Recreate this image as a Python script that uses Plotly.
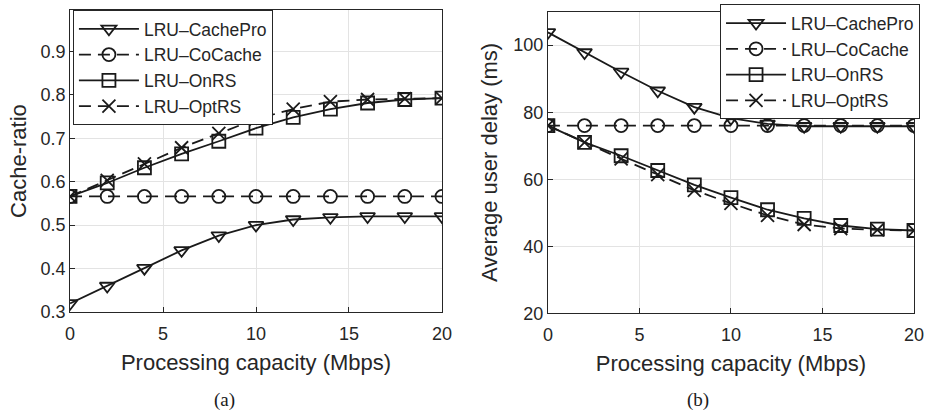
import plotly.graph_objects as go

x = [0, 2, 4, 6, 8, 10, 12, 14, 16, 18, 20]
names = ["LRU\u2013CachePro", "LRU\u2013CoCache", "LRU\u2013OnRS", "LRU\u2013OptRS"]

ratio_cachepro = [0.32, 0.36, 0.401, 0.442, 0.476, 0.50, 0.513, 0.518, 0.52, 0.52, 0.52]
ratio_cocache = [0.566] * 11
ratio_onrs = [0.566, 0.597, 0.632, 0.664, 0.693, 0.723, 0.748, 0.767, 0.781, 0.789, 0.792]
ratio_optrs = [0.566, 0.603, 0.641, 0.678, 0.711, 0.744, 0.767, 0.784, 0.789, 0.791, 0.792]

delay_cachepro = [103.8, 97.8, 92.0, 86.4, 81.5, 78.2, 76.5, 75.8, 75.8, 75.8, 75.8]
delay_cocache = [76.0] * 11
delay_onrs = [76.0, 71.0, 67.0, 62.6, 58.3, 54.5, 50.9, 48.3, 46.2, 45.1, 44.7]
delay_optrs = [76.0, 71.0, 66.1, 61.4, 56.7, 52.8, 49.2, 46.5, 45.3, 44.9, 44.7]

ink = "#1a1a1a"
styles = [
    dict(symbol="triangle-down-open", dash="solid"),
    dict(symbol="circle-open", dash="12px,7px"),
    dict(symbol="square-open", dash="solid"),
    dict(symbol="x-thin-open", dash="12px,7px"),
]

fig = go.Figure()
left_series = [ratio_cachepro, ratio_cocache, ratio_onrs, ratio_optrs]
right_series = [delay_cachepro, delay_cocache, delay_onrs, delay_optrs]
for i, (nm, ys) in enumerate(zip(names, left_series)):
    st = styles[i]
    fig.add_trace(go.Scatter(
        x=x, y=ys, name=nm, mode="lines+markers", xaxis="x", yaxis="y",
        line=dict(color=ink, width=1.8, dash=st["dash"]),
        marker=dict(symbol=st["symbol"], size=13, color=ink,
                    line=dict(color=ink, width=1.8)),
        legend="legend"))
for i, (nm, ys) in enumerate(zip(names, right_series)):
    st = styles[i]
    fig.add_trace(go.Scatter(
        x=x, y=ys, name=nm, mode="lines+markers", xaxis="x2", yaxis="y2",
        line=dict(color=ink, width=1.8, dash=st["dash"]),
        marker=dict(symbol=st["symbol"], size=13, color=ink,
                    line=dict(color=ink, width=1.8)),
        legend="legend2"))

axis_common = dict(
    showline=True, linecolor="#262626", linewidth=1, mirror=True,
    ticks="inside", ticklen=5, tickcolor="#262626",
    showgrid=True, gridcolor="#e3e3e3", gridwidth=1, zeroline=False,
    automargin=False,
    tickfont=dict(family="Liberation Sans, Arial", size=18, color="#262626"),
)

title_font = dict(family="Liberation Sans, Arial", size=22, color="#262626")

fig.update_layout(
    width=935, height=415,
    margin=dict(l=0, r=0, t=0, b=0),
    paper_bgcolor="white", plot_bgcolor="white",
    font=dict(family="Liberation Sans, Arial", color="#262626"),
    xaxis=dict(domain=[0.0749, 0.4727], range=[0, 20], tickvals=[0, 5, 10, 15, 20],
               ticklabelstandoff=5,
               title=dict(text="Processing capacity (Mbps)", font=title_font, standoff=11),
               anchor="y", **axis_common),
    yaxis=dict(domain=[0.248, 0.976], range=[0.3, 0.995],
               tickvals=[0.3, 0.4, 0.5, 0.6, 0.7, 0.8, 0.9], tickformat=".1f",
               title=dict(text="Cache-ratio", font=title_font, standoff=7),
               anchor="x", **axis_common),
    xaxis2=dict(domain=[0.586, 0.9775], range=[0, 20], tickvals=[0, 5, 10, 15, 20],
                ticklabelstandoff=5,
                title=dict(text="Processing capacity (Mbps)", font=title_font, standoff=11),
                anchor="y2", **axis_common),
    yaxis2=dict(domain=[0.245, 0.972], range=[20, 110], tickvals=[20, 40, 60, 80, 100],
                title=dict(text="Average user delay (ms)", font=title_font, standoff=9),
                anchor="x2", **axis_common),
    legend=dict(x=0.078, y=0.976, xanchor="left", yanchor="top",
                bgcolor="white", bordercolor="#262626", borderwidth=1,
                font=dict(size=17.5, color="#262626"), tracegroupgap=0,
                itemwidth=60),
    legend2=dict(x=0.984, y=0.99, xanchor="right", yanchor="top",
                 bgcolor="white", bordercolor="#262626", borderwidth=1,
                 font=dict(size=17.5, color="#262626"), tracegroupgap=0,
                 itemwidth=60),
    annotations=[
        dict(text="(a)", x=224 / 935, y=1 - 400 / 415, xref="paper", yref="paper",
             xanchor="center", yanchor="middle", showarrow=False,
             font=dict(family="Liberation Serif, Times New Roman", size=19, color="#1a1a1a")),
        dict(text="(b)", x=698 / 935, y=1 - 400 / 415, xref="paper", yref="paper",
             xanchor="center", yanchor="middle", showarrow=False,
             font=dict(family="Liberation Serif, Times New Roman", size=19, color="#1a1a1a")),
    ],
)

fig.write_html("out.html")
